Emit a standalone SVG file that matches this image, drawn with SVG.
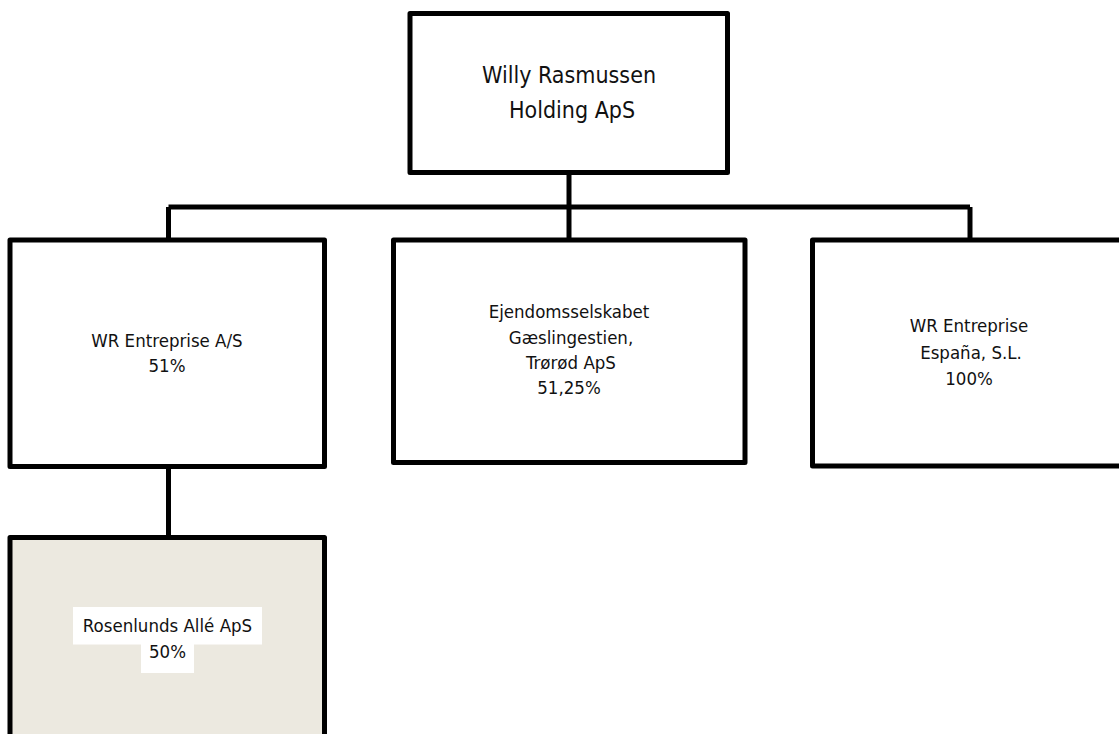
<svg xmlns="http://www.w3.org/2000/svg" width="1119" height="734" viewBox="0 0 1119 734">
<style>
.box{fill:#ffffff;stroke:#000000;stroke-width:5;stroke-linejoin:round}
.shaded{fill:#ECE9E0}
.conn{fill:none;stroke:#000000;stroke-width:5}
text{font-family:"DejaVu Sans Condensed","DejaVu Sans",sans-serif;font-stretch:condensed;fill:#111111;text-anchor:middle}
.t{font-size:23px}
.s{font-size:18.5px}
.hl{fill:#ffffff;stroke:none}
</style>
<rect width="1119" height="734" fill="#ffffff"/>
<g id="connectors">
<path class="conn" d="M569,172.5 V207"/>
<path class="conn" d="M168.5,207 H970"/>
<path class="conn" d="M168.5,207 V240"/>
<path class="conn" d="M569,207 V240"/>
<path class="conn" d="M970,207 V240"/>
<path class="conn" d="M168.5,466.5 V537.5"/>
</g>
<g id="holding">
<rect class="box" x="410" y="13.5" width="317.5" height="159"/>
<text class="t" x="569" y="83">Willy Rasmussen</text>
<text class="t" x="572" y="118">Holding ApS</text>
</g>
<g id="wr-entreprise">
<rect class="box" x="10" y="240" width="314.5" height="226.5"/>
<text class="s" x="167" y="347">WR Entreprise A/S</text>
<text class="s" x="167" y="372">51%</text>
</g>
<g id="ejendomsselskabet">
<rect class="box" x="393.5" y="240" width="351.5" height="222.5"/>
<text class="s" x="569" y="318">Ejendomsselskabet</text>
<text class="s" x="571" y="344">Gæslingestien,</text>
<text class="s" x="571" y="369">Trørød ApS</text>
<text class="s" x="569" y="394">51,25%</text>
</g>
<g id="wr-espana">
<rect class="box" x="812.5" y="240" width="320" height="226"/>
<text class="s" x="969" y="332">WR Entreprise</text>
<text class="s" x="971" y="359">España, S.L.</text>
<text class="s" x="969" y="385">100%</text>
</g>
<g id="rosenlunds">
<rect class="box shaded" x="10" y="537.5" width="314.5" height="220"/>
<rect class="hl" x="73" y="607" width="189" height="37.5"/>
<rect class="hl" x="141" y="644" width="53" height="29"/>
<text class="s" x="167.5" y="632">Rosenlunds Allé ApS</text>
<text class="s" x="167.5" y="658">50%</text>
</g>
</svg>
